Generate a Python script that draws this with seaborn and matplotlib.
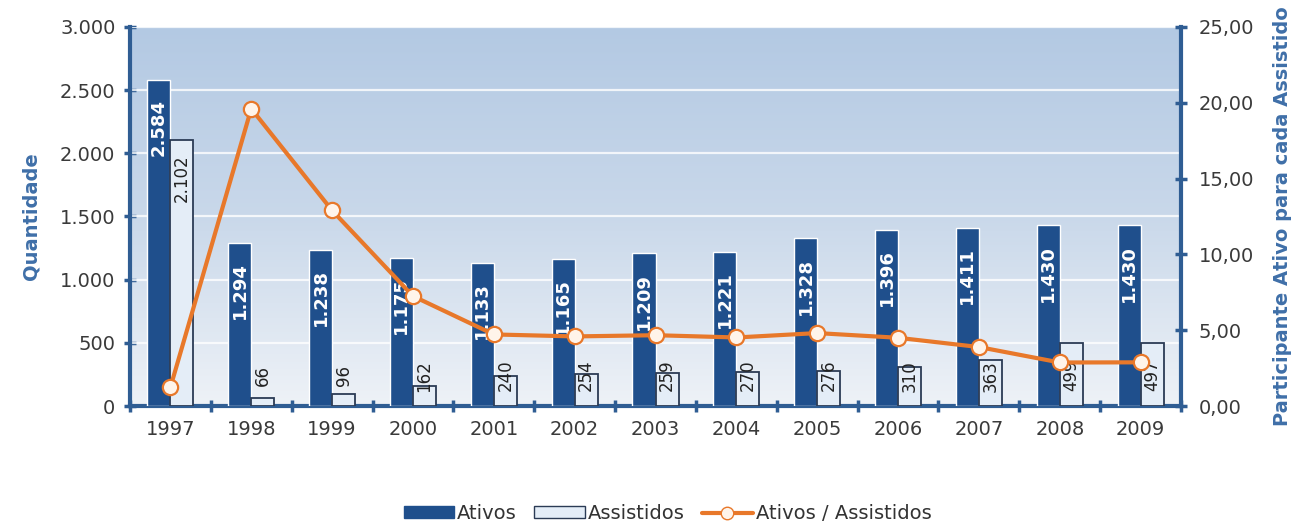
import numpy as np
import pandas as pd
import matplotlib
matplotlib.use("Agg")
import matplotlib.pyplot as plt
from matplotlib.colors import LinearSegmentedColormap
from matplotlib.lines import Line2D
from matplotlib.patches import Patch
import seaborn as sns

# --- data -------------------------------------------------------------
anos = ["1997", "1998", "1999", "2000", "2001", "2002", "2003",
        "2004", "2005", "2006", "2007", "2008", "2009"]
ativos = [2584, 1294, 1238, 1175, 1133, 1165, 1209, 1221, 1328, 1396, 1411, 1430, 1430]
assistidos = [2102, 66, 96, 162, 240, 254, 259, 270, 276, 310, 363, 499, 497]
razao = [1.23, 19.61, 12.90, 7.25, 4.72, 4.59, 4.67, 4.52, 4.81, 4.50, 3.89, 2.87, 2.88]

serie_ativos = "Ativos"
serie_assist = "Assistidos"
serie_razao = "Ativos / Assistidos"

# --- style ------------------------------------------------------------
sns.set_theme(style="white")
plt.rcParams["font.family"] = ["DejaVu Sans"]

azul_escuro = "#1f4f8c"
azul_claro = "#e4edf7"
borda_assist = "#2b3b55"
laranja = "#e8782a"
azul_eixo = "#2f5d93"
azul_texto = "#3f6fa8"
cinza_texto = "#3a3a3a"

fmt_milhar = lambda v: f"{int(v):,}".replace(",", ".")
fmt_dec = lambda v: f"{v:.2f}".replace(".", ",")

df = pd.DataFrame({
    "Ano": anos * 2,
    "Valor": ativos + assistidos,
    "Série": [serie_ativos] * len(anos) + [serie_assist] * len(anos),
})

fig = plt.figure(figsize=(13.01, 5.23), dpi=100)
ax = fig.add_axes([0.0999, 0.2237, 0.8079, 0.7247])

# background gradient of the plot area: blue at the top, almost white at the base
grad = np.linspace(0, 1, 256).reshape(-1, 1)
cmap_bg = LinearSegmentedColormap.from_list("bg", ["#b3c9e3", "#c9d8ea", "#eef2f7"])
ax.imshow(grad, aspect="auto", cmap=cmap_bg, origin="upper",
          extent=[-0.5, len(anos) - 0.5, 0, 3000],
          zorder=0, interpolation="bicubic")

sns.barplot(data=df, x="Ano", y="Valor", hue="Série", ax=ax,
            palette={serie_ativos: azul_escuro, serie_assist: azul_claro},
            saturation=1, width=0.57, dodge=True, gap=0, legend=False, zorder=3)

# outline for the light bars
for bar in ax.containers[1]:
    bar.set_edgecolor(borda_assist)
    bar.set_linewidth(1.3)

ax.set_xlim(-0.5, len(anos) - 0.5)
ax.set_ylim(0, 3000)
ax.set_yticks(np.arange(0, 3001, 500))
ax.set_yticklabels([fmt_milhar(v) for v in np.arange(0, 3001, 500)])
for y in np.arange(500, 3001, 500):
    ax.axhline(y, color="white", lw=1.6, alpha=0.8, zorder=1)

# value labels on bars
for bar, v in zip(ax.containers[0], ativos):
    cx = bar.get_x() + bar.get_width() / 2
    ax.annotate(fmt_milhar(v), (cx, v), xytext=(0, -14), textcoords="offset points",
                rotation=90, ha="center", va="top", color="white",
                fontsize=13, fontweight="bold", zorder=5)
for bar, v in zip(ax.containers[1], assistidos):
    cx = bar.get_x() + bar.get_width() / 2
    if v > 600:
        ax.annotate(fmt_milhar(v), (cx, v), xytext=(0, -10), textcoords="offset points",
                    rotation=90, ha="center", va="top", color="#222222",
                    fontsize=12, zorder=5)
    else:
        ax.text(cx, 240, fmt_milhar(v), rotation=90, ha="center", va="center",
                color="#222222", fontsize=12, zorder=5)

ax.set_xlabel("")
ax.set_ylabel("Quantidade", color=azul_texto, fontsize=14, fontweight="bold", labelpad=14)

# ratio line on the secondary axis
ax2 = ax.twinx()
sns.lineplot(x=np.arange(len(anos)), y=razao, ax=ax2, color=laranja, lw=3,
             marker="o", markersize=11, markerfacecolor="#fff4ea",
             markeredgecolor=laranja, markeredgewidth=1.6, zorder=6)
ax2.set_ylim(0, 25)
ax2.set_yticks(np.arange(0, 26, 5))
ax2.set_yticklabels([fmt_dec(v) for v in np.arange(0, 26, 5)])
ax2.set_ylabel("Participante Ativo para cada Assistido", color=azul_texto,
               fontsize=14, fontweight="semibold", labelpad=14)
ax2.set_xlim(-0.5, len(anos) - 0.5)

# axes lines and ticks
for a in (ax, ax2):
    a.spines["top"].set_visible(False)
    for side in ("left", "right", "bottom"):
        a.spines[side].set_color(azul_eixo)
        a.spines[side].set_linewidth(3)
ax.spines["right"].set_visible(False)
ax2.spines["left"].set_visible(False)
ax2.spines["bottom"].set_visible(False)

ax.tick_params(axis="y", direction="inout", length=9, width=2.5, color=azul_eixo,
               labelsize=14, labelcolor=cinza_texto, pad=6, left=True)
ax2.tick_params(axis="y", direction="inout", length=9, width=2.5, color=azul_eixo,
                labelsize=14, labelcolor=cinza_texto, pad=8, right=True)
ax.tick_params(axis="x", which="major", length=0, labelsize=14, labelcolor=cinza_texto, pad=10)
ax.set_xticks(np.arange(-0.5, len(anos) - 0.4, 1.0), minor=True)
ax.tick_params(axis="x", which="minor", direction="inout", length=9, width=2.5,
               color=azul_eixo, bottom=True)

# legend below the plot
handles = [
    Patch(facecolor=azul_escuro, edgecolor=azul_escuro, label=serie_ativos),
    Patch(facecolor=azul_claro, edgecolor=borda_assist, label=serie_assist),
    Line2D([0], [0], color=laranja, lw=3, marker="o", markersize=9,
           markerfacecolor="#fff4ea", markeredgecolor=laranja, label=serie_razao),
]
fig.legend(handles=handles, loc="center", bbox_to_anchor=(0.513, 0.018), ncol=3,
           frameon=False, fontsize=14, handlelength=2.6, handleheight=0.6,
           handletextpad=0.15, columnspacing=0.9, labelcolor="#333333")

fig.savefig("out.png", dpi=100)
